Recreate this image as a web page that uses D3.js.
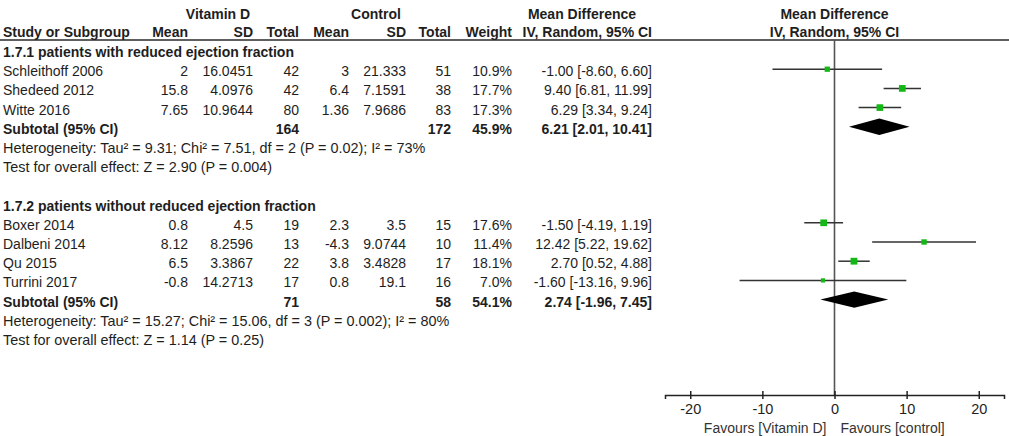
<!DOCTYPE html>
<html><head><meta charset="utf-8">
<script src="https://cdn.jsdelivr.net/npm/d3@7"></script>
<style>
html,body{margin:0;padding:0;background:#fff;}
svg text{font-family:"Liberation Sans",Arial,sans-serif;font-size:14px;fill:#1e1e1e;}
</style></head><body>
<svg id="c" width="1009" height="436"></svg>
<script>
// ---- data ----
const groupTitles = ["1.7.1 patients with reduced ejection fraction", "1.7.2 patients without reduced ejection fraction"];
const studies = ["Schleithoff 2006", "Shedeed 2012", "Witte 2016", "Boxer 2014", "Dalbeni 2014", "Qu 2015", "Turrini 2017"];
const studyGroup = [0, 0, 0, 1, 1, 1, 1];
const vdMean = ["2", "15.8", "7.65", "0.8", "8.12", "6.5", "-0.8"];
const vdSD = ["16.0451", "4.0976", "10.9644", "4.5", "8.2596", "3.3867", "14.2713"];
const vdTotal = [42, 42, 80, 19, 13, 22, 17];
const ctMean = ["3", "6.4", "1.36", "2.3", "-4.3", "3.8", "0.8"];
const ctSD = ["21.333", "7.1591", "7.9686", "3.5", "9.0744", "3.4828", "19.1"];
const ctTotal = [51, 38, 83, 15, 10, 17, 16];
const weight = [10.9, 17.7, 17.3, 17.6, 11.4, 18.1, 7.0];
const md = [-1.00, 9.40, 6.29, -1.50, 12.42, 2.70, -1.60];
const ciLow = [-8.60, 6.81, 3.34, -4.19, 5.22, 0.52, -13.16];
const ciHigh = [6.60, 11.99, 9.24, 1.19, 19.62, 4.88, 9.96];
const subVdTotal = [164, 71];
const subCtTotal = [172, 58];
const subWeight = [45.9, 54.1];
const subMd = [6.21, 2.74];
const subLow = [2.01, -1.96];
const subHigh = [10.41, 7.45];
const hetText = ["Heterogeneity: Tau\u00b2 = 9.31; Chi\u00b2 = 7.51, df = 2 (P = 0.02); I\u00b2 = 73%",
                 "Heterogeneity: Tau\u00b2 = 15.27; Chi\u00b2 = 15.06, df = 3 (P = 0.002); I\u00b2 = 80%"];
const effText = ["Test for overall effect: Z = 2.90 (P = 0.004)", "Test for overall effect: Z = 1.14 (P = 0.25)"];
const tickValues = [-20, -10, 0, 10, 20];
const favourLabels = ["Favours [Vitamin D]", "Favours [control]"];

// ---- layout ----
const svg = d3.select("#c");
const x = d3.scaleLinear().domain([-23.5, 23.5]).range([665, 1004]);
const rowY0 = 50, rowStep = 19.2;
const rowY = i => rowY0 + i * rowStep;
const axisY = 395;
const fmt2 = v => v.toFixed(2);
const ci = (m, l, h) => `${fmt2(m)} [${fmt2(l)}, ${fmt2(h)}]`;

// build row list
const rows = [];
[0, 1].forEach(g => {
  rows.push({type: "title", g});
  studies.forEach((s, i) => { if (studyGroup[i] === g) rows.push({type: "study", i}); });
  rows.push({type: "sub", g});
  rows.push({type: "het", g});
  rows.push({type: "eff", g});
  if (g === 0) rows.push({type: "blank"});
});

const cols = {study: 3, vdMean: 188, vdSD: 253, vdTotal: 299, ctMean: 349, ctSD: 406, ctTotal: 451, weight: 512, ci: 652};

function txt(xp, y, s, anchor, bold) {
  return svg.append("text").attr("x", xp).attr("y", y).attr("text-anchor", anchor || "start")
    .style("font-weight", bold ? "bold" : "normal").text(s);
}

// headers
txt(218, 19, "Vitamin D", "middle", true);
txt(376, 19, "Control", "middle", true);
txt(582, 19, "Mean Difference", "middle", true);
txt(x(0), 19, "Mean Difference", "middle", true);
txt(cols.study, 37, "Study or Subgroup", "start", true);
txt(cols.vdMean, 37, "Mean", "end", true);
txt(cols.vdSD, 37, "SD", "end", true);
txt(cols.vdTotal, 37, "Total", "end", true);
txt(cols.ctMean, 37, "Mean", "end", true);
txt(cols.ctSD, 37, "SD", "end", true);
txt(cols.ctTotal, 37, "Total", "end", true);
txt(cols.weight, 37, "Weight", "end", true);
txt(cols.ci, 37, "IV, Random, 95% CI", "end", true);
txt(x(0), 37, "IV, Random, 95% CI", "middle", true);
svg.append("line").attr("x1", 0).attr("x2", 1009).attr("y1", 40).attr("y2", 40)
  .attr("stroke", "#2a2a2a").attr("stroke-width", 1.5);

// zero line
svg.append("line").attr("x1", x(0)).attr("x2", x(0)).attr("y1", 40).attr("y2", axisY)
  .attr("stroke", "#555").attr("stroke-width", 1.6);

rows.forEach((r, k) => {
  const y = rowY(k);
  const ty = y + 7;
  if (r.type === "title") txt(cols.study, ty, groupTitles[r.g], "start", true);
  else if (r.type === "study") {
    const i = r.i;
    txt(cols.study, ty, studies[i]);
    txt(cols.vdMean, ty, vdMean[i], "end");
    txt(cols.vdSD, ty, vdSD[i], "end");
    txt(cols.vdTotal, ty, vdTotal[i], "end");
    txt(cols.ctMean, ty, ctMean[i], "end");
    txt(cols.ctSD, ty, ctSD[i], "end");
    txt(cols.ctTotal, ty, ctTotal[i], "end");
    txt(cols.weight, ty, weight[i].toFixed(1) + "%", "end");
    txt(cols.ci, ty, ci(md[i], ciLow[i], ciHigh[i]), "end");
    svg.append("line").attr("x1", x(ciLow[i])).attr("x2", x(ciHigh[i])).attr("y1", y).attr("y2", y)
      .attr("stroke", "#333").attr("stroke-width", 1.5);
    const s = 1.6 * Math.sqrt(weight[i]);
    svg.append("rect").attr("x", x(md[i]) - s / 2).attr("y", y - s / 2).attr("width", s).attr("height", s)
      .attr("fill", "#14b814");
  } else if (r.type === "sub") {
    const g = r.g;
    txt(cols.study, ty, "Subtotal (95% CI)", "start", true);
    txt(cols.vdTotal, ty, subVdTotal[g], "end", true);
    txt(cols.ctTotal, ty, subCtTotal[g], "end", true);
    txt(cols.weight, ty, subWeight[g].toFixed(1) + "%", "end", true);
    txt(cols.ci, ty, ci(subMd[g], subLow[g], subHigh[g]), "end", true);
    const h = 8.2;
    svg.append("path").attr("d", `M${x(subLow[g])},${y}L${x(subMd[g])},${y - h}L${x(subHigh[g])},${y}L${x(subMd[g])},${y + h}Z`)
      .attr("fill", "#000");
  } else if (r.type === "het") txt(cols.study, ty, hetText[r.g]).style("font-size", "14.4px");
  else if (r.type === "eff") txt(cols.study, ty, effText[r.g]).style("font-size", "14.4px");
});

// axis
const ax = svg.append("g").attr("transform", `translate(0,${axisY})`)
  .call(d3.axisBottom(x).tickValues(tickValues).tickSizeOuter(0).tickSize(4).tickPadding(5).tickFormat(d => String(d)));
ax.select(".domain").attr("stroke", "#222").attr("stroke-width", 1.5);
ax.selectAll(".tick line").attr("y1", -4).attr("y2", 4).attr("stroke", "#222").attr("stroke-width", 1.5);
ax.selectAll(".tick text").attr("y", 9).attr("dy", "0.71em").style("font-size", "14.5px")
  .style("font-family", "'Liberation Sans',Arial,sans-serif").attr("fill", "#1e1e1e");
txt(x(0) - 8, 433, favourLabels[0], "end").style("fill", "#333");
txt(x(0) + 6, 433, favourLabels[1], "start").style("fill", "#333");
</script>
</body></html>
